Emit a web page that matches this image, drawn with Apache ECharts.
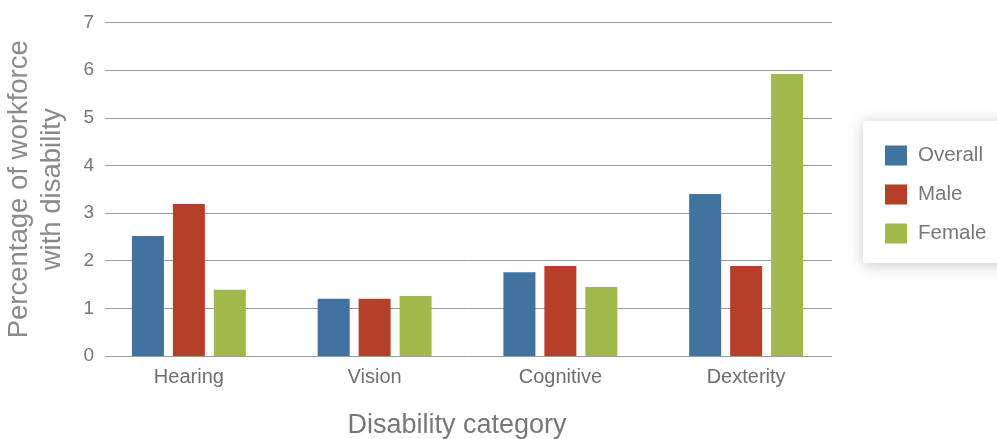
<!DOCTYPE html>
<html>
<head>
<meta charset="utf-8">
<script src="https://cdn.jsdelivr.net/npm/echarts@6/dist/echarts.min.js"></script>
<style>
  html, body { margin: 0; padding: 0; background: #ffffff; }
  #chart { width: 997px; height: 439px; }
</style>
</head>
<body>
<div id="chart"></div>
<script>
// Disability categories and share of workforce (%) for each group
const categories = ['Hearing', 'Vision', 'Cognitive', 'Dexterity'];
const overall = [2.52, 1.20, 1.76, 3.40];
const male = [3.19, 1.20, 1.89, 1.89];
const female = [1.39, 1.26, 1.45, 5.92];
const yTicks = [0, 1, 2, 3, 4, 5, 6, 7];

const FONT = '"Liberation Sans", Arial, sans-serif';
const TEXT = '#777777';
const colors = { Overall: '#4073A0', Male: '#B53F29', Female: '#A0B94A' };

const chart = echarts.init(document.getElementById('chart'));

const yMin = yTicks[0], yMax = yTicks[yTicks.length - 1];

chart.setOption({
  animation: false,
  textStyle: { fontFamily: FONT },
  grid: [
    // rules and y tick labels
    { left: 105, right: 165, top: 22.5, bottom: 83, containLabel: false, outerBoundsMode: 'none' },
    // bars and category labels
    { left: 96, right: 158, top: 22.5, bottom: 83, containLabel: false, outerBoundsMode: 'none' }
  ],
  legend: {
    orient: 'vertical',
    left: 863,
    top: 121,
    width: 160,
    padding: [24, 40, 19, 22],
    itemWidth: 22,
    itemHeight: 20,
    itemGap: 18,
    backgroundColor: '#ffffff',
    shadowBlur: 14,
    shadowColor: 'rgba(0,0,0,0.22)',
    shadowOffsetX: 0,
    shadowOffsetY: 2,
    icon: 'rect',
    textStyle: { fontSize: 20.5, color: TEXT, fontFamily: FONT, padding: [0, 0, 0, 6] },
    data: ['Overall', 'Male', 'Female']
  },
  xAxis: [
    { type: 'category', gridIndex: 0, data: categories, show: false },
    {
      type: 'category', gridIndex: 1, data: categories,
      axisLine: { show: false }, axisTick: { show: false },
      axisLabel: { fontSize: 20, color: '#6e6e6e', margin: 11, fontFamily: FONT }
    }
  ],
  yAxis: [
    {
      type: 'value', gridIndex: 0, min: yMin, max: yMax, interval: 1,
      axisLine: { show: false }, axisTick: { show: false },
      axisLabel: { fontSize: 19, color: TEXT, margin: 11, fontFamily: FONT },
      splitLine: { lineStyle: { color: '#9a9a9a', width: 1 } },
      name: 'Percentage of workforce\nwith disability',
      nameLocation: 'middle',
      nameGap: 36,
      nameTextStyle: { fontSize: 27.5, color: '#8a8a8a', lineHeight: 33, fontFamily: FONT }
    },
    { type: 'value', gridIndex: 1, min: yMin, max: yMax, interval: 1, show: false }
  ],
  graphic: [{
    type: 'text',
    x: 457,
    y: 426,
    style: {
      text: 'Disability category',
      fontSize: 27, fill: TEXT, fontFamily: FONT,
      align: 'center', verticalAlign: 'middle'
    }
  }],
  series: [
    { name: 'Overall', type: 'bar', xAxisIndex: 1, yAxisIndex: 1, data: overall, barWidth: 32, barGap: '28%', itemStyle: { color: colors.Overall } },
    { name: 'Male', type: 'bar', xAxisIndex: 1, yAxisIndex: 1, data: male, barWidth: 32, barGap: '28%', itemStyle: { color: colors.Male } },
    { name: 'Female', type: 'bar', xAxisIndex: 1, yAxisIndex: 1, data: female, barWidth: 32, barGap: '28%', itemStyle: { color: colors.Female } }
  ]
});
</script>
</body>
</html>
